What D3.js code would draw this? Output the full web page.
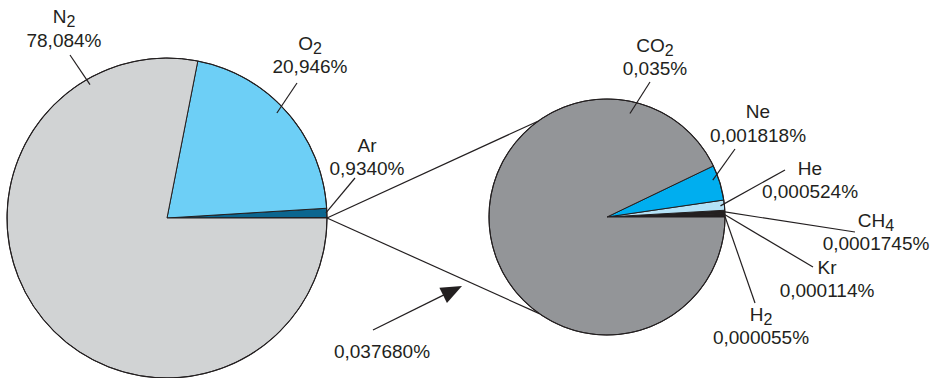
<!DOCTYPE html>
<html>
<head>
<meta charset="utf-8">
<script src="https://cdn.jsdelivr.net/npm/d3@7"></script>
<style>
  html, body { margin: 0; padding: 0; background: #fff; }
  svg { display: block; }
  text { font-family: "Liberation Sans", Arial, Helvetica, sans-serif; fill: #231f20; }
</style>
</head>
<body>
<svg id="chart" width="936" height="378"></svg>
<script>
// ---------- DATA ----------
// Main atmosphere composition (drawing order: counter-clockwise from 3 o'clock)
const mainNames  = ["Other", "Ar", "O2", "N2"];
const mainValues = [0.037680, 0.9340, 20.946, 78.084];
const mainLabels = ["0,037680%", "0,9340%", "20,946%", "78,084%"];

// Trace gases (the 0,037680% slice, exploded)
const traceNames  = ["H2", "Kr", "CH4", "He", "Ne", "CO2"];
const traceValues = [0.000055, 0.000114, 0.0001745, 0.000524, 0.001818, 0.035];
const traceLabels = ["0,000055%", "0,000114%", "0,0001745%", "0,000524%", "0,001818%", "0,035%"];

// ---------- STYLE / LAYOUT ----------
const mainColors  = {Other: "#231f20", Ar: "#0b6690", O2: "#6dcff6", N2: "#d1d3d4"};
const traceColors = {H2: "#231f20", Kr: "#231f20", CH4: "#231f20", He: "#b5e2f7", Ne: "#00aeef", CO2: "#939598"};
const stroke = "#231f20";

const mainC = [167, 218], mainR = 160;
const traceC = [607, 217], traceR = 118;

// label layout: text centre x, baseline of line 1 and 2, leader outer end, leader inner end (polar: deg, r) or "mid"
const mainLayout = {
  N2: {x: 64,  b1: 23,  b2: 47,  out: [70, 55],   inner: [-30, 154]},
  O2: {x: 310, b1: 50,  b2: 73,  out: [297, 83],  inner: [46.3, 152]},
  Ar: {x: 367, b1: 152, b2: 175, out: [355, 178], inner: ["mid", 159]}
};
const traceLayout = {
  CO2: {x: 655, b1: 52,  b2: 75,  out: [650, 82],  inner: [12.5, 106]},
  Ne:  {x: 758, b1: 118, b2: 142, out: [735, 149], inner: [70.8, 112]},
  He:  {x: 810, b1: 175, b2: 198, out: [785, 170], inner: [84.4, 114]},
  CH4: {x: 876, b1: 227, b2: 250, out: [855, 232], inner: ["mid", 118]},
  Kr:  {x: 827, b1: 274, b2: 297, out: [813, 267], inner: ["mid", 118]},
  H2:  {x: 761, b1: 321, b2: 344, out: [755, 303], inner: ["mid", 118]}
};
const otherLabelPos = {x: 382, y: 358};
const arrowFrom = [373, 330], arrowTo = [462, 286];
const zoomAngles = [-35.5, -145]; // where the zoom lines meet the trace circle (d3 degrees)

// ---------- DRAW ----------
const svg = d3.select("#chart");
const rad = d => d * Math.PI / 180;
const polar = (c, angDeg, r) => [c[0] + r * Math.sin(rad(angDeg)), c[1] - r * Math.cos(rad(angDeg))];

function pieOf(values) {
  return d3.pie().sort(null).value(d => d)
    .startAngle(Math.PI / 2).endAngle(Math.PI / 2 - 2 * Math.PI)(values);
}

function drawPie(center, r, names, values, colors) {
  const arcs = pieOf(values);
  const arc = d3.arc().innerRadius(0).outerRadius(r);
  const g = svg.append("g").attr("transform", `translate(${center[0]},${center[1]})`);
  g.selectAll("path").data(arcs).join("path")
    .attr("d", arc)
    .attr("fill", (d, i) => colors[names[i]])
    .attr("stroke", stroke)
    .attr("stroke-width", 1)
    .attr("stroke-linejoin", "round");
  g.append("circle").attr("r", r).attr("fill", "none").attr("stroke", stroke).attr("stroke-width", 1.1);
  return arcs;
}

// zoom lines (behind pies)
const zoomOrigin = polar(mainC, 90, mainR);
zoomAngles.forEach(a => {
  const p = polar(traceC, a, traceR);
  svg.append("line")
    .attr("x1", zoomOrigin[0]).attr("y1", zoomOrigin[1])
    .attr("x2", p[0]).attr("y2", p[1])
    .attr("stroke", stroke).attr("stroke-width", 1.2);
});

const mainArcs = drawPie(mainC, mainR, mainNames, mainValues, mainColors);
const traceArcs = drawPie(traceC, traceR, traceNames, traceValues, traceColors);

function addLabel(name, pct, lay, arcs, idx, center) {
  let ang = lay.inner[0];
  if (ang === "mid") {
    const a = arcs[idx];
    ang = ((a.startAngle + a.endAngle) / 2) * 180 / Math.PI;
  }
  const ip = polar(center, ang, lay.inner[1]);
  svg.append("line")
    .attr("x1", lay.out[0]).attr("y1", lay.out[1])
    .attr("x2", ip[0]).attr("y2", ip[1])
    .attr("stroke", stroke).attr("stroke-width", 1.2);

  const t1 = svg.append("text").attr("x", lay.x).attr("y", lay.b1)
    .attr("text-anchor", "middle").attr("font-size", 19);
  const m = name.match(/^([A-Za-z]+)(\d*)$/);
  t1.append("tspan").text(m[1]);
  if (m[2]) t1.append("tspan").attr("dy", 4).attr("font-size", 16).text(m[2]);
  svg.append("text").attr("x", lay.x).attr("y", lay.b2)
    .attr("text-anchor", "middle").attr("font-size", 19).text(pct);
}

mainNames.forEach((n, i) => { if (mainLayout[n]) addLabel(n, mainLabels[i], mainLayout[n], mainArcs, i, mainC); });
traceNames.forEach((n, i) => { if (traceLayout[n]) addLabel(n, traceLabels[i], traceLayout[n], traceArcs, i, traceC); });

// arrow + total label for trace gases
const dx = arrowTo[0] - arrowFrom[0], dy = arrowTo[1] - arrowFrom[1];
const len = Math.hypot(dx, dy), ux = dx / len, uy = dy / len;
const headL = 21, headW = 8.5;
const base = [arrowTo[0] - ux * headL, arrowTo[1] - uy * headL];
svg.append("line")
  .attr("x1", arrowFrom[0]).attr("y1", arrowFrom[1])
  .attr("x2", base[0] + ux * 2).attr("y2", base[1] + uy * 2)
  .attr("stroke", stroke).attr("stroke-width", 1.3);
svg.append("path")
  .attr("d", d3.line()([
    arrowTo,
    [base[0] - uy * headW, base[1] + ux * headW],
    [base[0] + uy * headW, base[1] - ux * headW]
  ]) + "Z")
  .attr("fill", stroke);

svg.append("text").attr("x", otherLabelPos.x).attr("y", otherLabelPos.y)
  .attr("text-anchor", "middle").attr("font-size", 19)
  .text(mainLabels[mainNames.indexOf("Other")]);
</script>
</body>
</html>
